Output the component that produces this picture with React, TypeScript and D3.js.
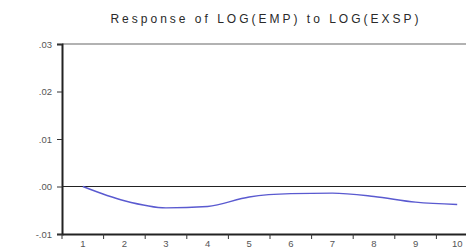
import React, { useEffect, useRef } from "react";
import * as d3 from "d3";

const periods = ["1", "2", "3", "4", "5", "6", "7", "8", "9", "10"];
const response = [0.0, -0.003, -0.0045, -0.0042, -0.0022, -0.0015, -0.0014, -0.0021, -0.0033, -0.0038];
const yTicks = [0.03, 0.02, 0.01, 0.0, -0.01];
const yTickLabels = [".03", ".02", ".01", ".00", "-.01"];
const title = "Response of LOG(EMP) to LOG(EXSP)";

const App: React.FC = () => {
  const svgRef = useRef<SVGSVGElement>(null);
  const width = 466;
  const height = 250;
  const margin = { top: 44, right: -12, bottom: 15, left: 62 };

  useEffect(() => {
    if (!svgRef.current) return;
    const svg = d3.select(svgRef.current);
    svg.selectAll("*").remove();

    const innerWidth = width - margin.left - margin.right;
    const innerHeight = height - margin.top - margin.bottom - 1;

    const x = d3.scaleBand<string>().domain(periods).range([0, innerWidth]);
    const y = d3.scaleLinear().domain([-0.01, 0.03]).range([innerHeight, 0]);

    svg.append("rect").attr("width", width).attr("height", height).attr("fill", "#ffffff");

    // Title
    svg
      .append("text")
      .attr("x", 266)
      .attr("y", 23)
      .attr("text-anchor", "middle")
      .attr("fill", "#2a2a2a")
      .attr("font-family", "Arial, 'Liberation Sans', sans-serif")
      .attr("font-size", "12px")
      .attr("letter-spacing", "3px")
      .text(title);

    const g = svg.append("g").attr("transform", `translate(${margin.left},${margin.top})`);

    // top frame line
    g.append("line")
      .attr("x1", 0)
      .attr("x2", innerWidth)
      .attr("y1", 0)
      .attr("y2", 0)
      .attr("stroke", "#666")
      .attr("stroke-width", 1.2);

    // zero line
    g.append("line")
      .attr("x1", 0)
      .attr("x2", innerWidth)
      .attr("y1", y(0))
      .attr("y2", y(0))
      .attr("stroke", "#222")
      .attr("stroke-width", 1.2);

    // Y axis
    const yAxis = g
      .append("g")
      .call(
        d3
          .axisLeft(y)
          .tickValues(yTicks)
          .tickSize(5)
          .tickPadding(5)
          .tickFormat((d, i) => yTickLabels[i])
      );
    yAxis.select(".domain").attr("stroke", "#222").attr("stroke-width", 2);
    yAxis.selectAll("line").attr("stroke", "#333");
    yAxis
      .selectAll("text")
      .attr("fill", "#555")
      .attr("font-family", "Arial, 'Liberation Sans', sans-serif")
      .attr("font-size", "9.5px");

    // X axis
    const xAxis = g
      .append("g")
      .attr("transform", `translate(0,${innerHeight})`)
      .call(d3.axisBottom(x).tickSize(0).tickPadding(6));
    xAxis.select(".domain").attr("stroke", "#222").attr("stroke-width", 2);
    xAxis
      .selectAll("text")
      .attr("fill", "#555")
      .attr("font-family", "Arial, 'Liberation Sans', sans-serif")
      .attr("font-size", "9.5px");

    // band boundary ticks
    g.append("g")
      .selectAll("line")
      .data(periods)
      .enter()
      .append("line")
      .attr("x1", (d) => x(d)!)
      .attr("x2", (d) => x(d)!)
      .attr("y1", innerHeight)
      .attr("y2", innerHeight + 5)
      .attr("stroke", "#333");

    // Response line
    const line = d3
      .line<number>()
      .x((_, i) => x(periods[i])! + x.bandwidth() / 2)
      .y((d) => y(d))
      .curve(d3.curveMonotoneX);

    g.append("path")
      .datum(response)
      .attr("d", line)
      .attr("fill", "none")
      .attr("stroke", "#5a5ad0")
      .attr("stroke-width", 1.4);
  }, []);

  return (
    <svg
      ref={svgRef}
      width={width}
      height={height}
      style={{ position: "absolute", left: 0, top: 0, display: "block" }}
    />
  );
};

export default App;
